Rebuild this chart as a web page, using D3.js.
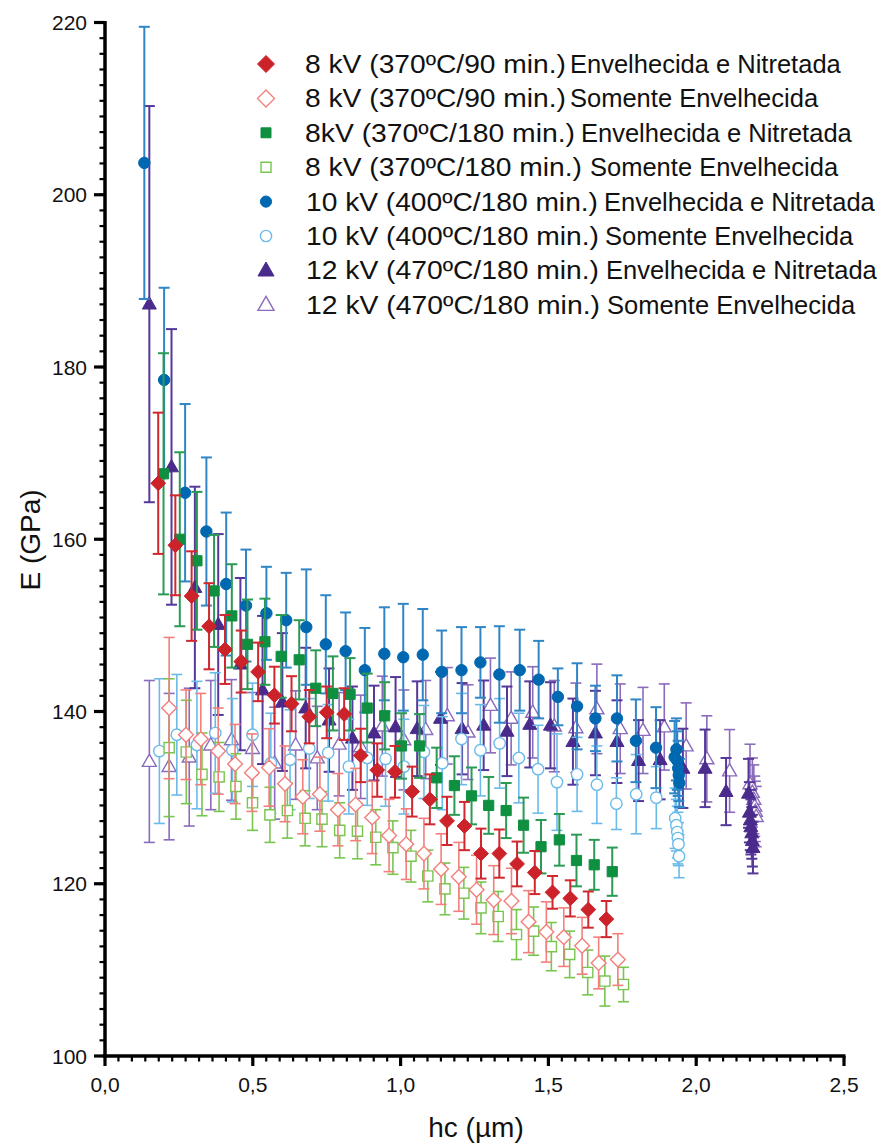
<!DOCTYPE html>
<html>
<head>
<meta charset="utf-8">
<script src="https://cdn.jsdelivr.net/npm/d3@7"></script>
<style>
  html, body { margin: 0; padding: 0; background: #fff; }
  svg { display: block; font-family: "Liberation Sans", Arial, sans-serif; }
</style>
</head>
<body>
<svg id="chart" width="879" height="1144"></svg>
<script>
// ---- Data: contact depth hc (µm), elastic modulus E (GPa) and its deviation ----

// 8 kV (370ºC/90 min.) aged and nitrided
const hcN8_90  = [0.180,0.238,0.293,0.352,0.406,0.461,0.518,0.573,0.631,0.691,0.750,0.809,0.865,0.921,0.981,1.039,1.099,1.157,1.216,1.272,1.334,1.394,1.454,1.514,1.574,1.635,1.696];
const eN8_90   = [166.5,159.3,153.4,149.9,147.2,145.8,144.6,141.9,140.9,139.4,139.9,139.7,134.9,133.2,133.0,130.7,129.8,127.3,126.7,123.5,123.5,122.3,121.3,119.0,118.3,117.0,115.9];
const errN8_90 = [8.2,5.8,5.2,5.0,4.0,3.6,3.4,3.3,3.2,3.1,3.0,3.0,3.1,3.1,3.0,2.9,2.9,2.8,2.8,2.9,2.8,2.6,2.5,1.9,2.1,2.1,2.1];

// 8 kV (370ºC/90 min.) aged only
const hcA8_90  = [0.217,0.274,0.324,0.383,0.440,0.497,0.555,0.609,0.669,0.727,0.788,0.848,0.904,0.961,1.019,1.079,1.137,1.197,1.257,1.315,1.375,1.433,1.493,1.552,1.614,1.670,1.735];
const eA8_90   = [140.4,137.3,136.8,135.4,133.9,132.9,133.5,131.6,130.1,130.4,128.6,129.2,127.7,125.6,124.6,123.5,121.7,120.8,119.3,118.1,118.0,115.6,114.4,113.8,112.8,110.8,111.2];
const errA8_90 = [8.2,5.2,5.3,5.0,4.6,4.5,4.5,4.4,4.3,4.3,4.2,4.2,4.2,4.2,4.1,4.1,4.1,4.0,4.0,4.0,3.8,3.6,3.5,3.4,3.3,3.0,3.0];

// 8 kV (370ºC/180 min.) aged and nitrided
const hcN8_180  = [0.198,0.253,0.311,0.369,0.429,0.482,0.541,0.596,0.657,0.713,0.771,0.829,0.887,0.946,1.003,1.064,1.122,1.182,1.240,1.298,1.357,1.416,1.475,1.537,1.595,1.655,1.716];
const eN8_180   = [167.6,160.0,157.5,154.0,151.1,147.8,148.1,146.4,146.0,142.7,142.1,142.0,140.4,139.5,136.0,136.0,132.3,131.4,130.2,129.1,128.5,126.8,124.3,125.1,122.7,122.2,121.4];
const errN8_180 = [14.0,10.1,8.0,6.5,6.0,5.2,5.0,4.8,4.6,4.4,4.3,4.2,4.0,3.9,3.8,3.7,3.5,3.4,3.3,3.3,3.2,3.2,3.1,3.0,3.0,2.9,2.8];

// 8 kV (370ºC/180 min.) aged only
const hcA8_180  = [0.217,0.275,0.328,0.386,0.443,0.499,0.558,0.617,0.677,0.734,0.794,0.854,0.916,0.974,1.035,1.092,1.150,1.214,1.272,1.330,1.392,1.450,1.510,1.572,1.633,1.691,1.754];
const eA8_180   = [135.8,135.3,132.7,132.4,131.3,129.4,128.0,128.5,127.6,127.5,126.2,126.1,125.4,124.2,123.2,120.9,119.4,118.9,117.2,116.2,114.1,114.5,112.7,111.8,109.7,108.7,108.3];
const errA8_180 = [8.0,6.0,4.8,4.0,3.8,3.2,3.2,3.2,3.2,3.2,3.2,3.2,3.2,3.1,3.0,3.0,3.0,3.0,3.0,2.9,2.9,2.8,2.8,2.7,2.6,2.9,2.0];

// 10 kV (400ºC/180 min.) aged and nitrided
const hcN10_180  = [0.133,0.200,0.271,0.343,0.410,0.477,0.546,0.613,0.681,0.747,0.814,0.879,0.945,1.009,1.075,1.139,1.206,1.270,1.334,1.403,1.467,1.532,1.597,1.659,1.732,1.796,1.864,1.927,1.933,1.936,1.939,1.941,1.943];
const eN10_180   = [203.7,178.5,165.4,160.9,154.8,152.3,151.4,150.6,149.8,147.8,147.0,144.8,146.7,146.3,146.6,144.6,144.8,145.7,144.3,144.8,143.7,141.7,140.6,139.2,139.2,136.6,135.8,134.7,135.6,134.3,133.4,132.6,131.7];
const errN10_180 = [15.8,10.7,10.3,8.6,8.3,6.5,5.4,5.5,6.7,5.7,4.5,4.9,5.4,6.2,5.3,4.8,5.0,4.1,5.6,4.7,4.5,3.3,5.0,3.8,5.0,4.8,4.7,4.2,3.6,3.4,3.2,3.0,2.8];

// 10 kV (400ºC/180 min.) aged only
const hcA10_180  = [0.184,0.243,0.311,0.373,0.431,0.499,0.561,0.626,0.691,0.755,0.825,0.887,0.949,1.011,1.079,1.141,1.206,1.270,1.335,1.400,1.465,1.529,1.597,1.664,1.730,1.797,1.865,1.929,1.933,1.936,1.938,1.940,1.942];
const eA10_180   = [135.4,137.3,136.1,137.5,135.5,137.3,134.0,134.4,135.7,135.2,133.6,134.6,134.5,133.6,135.3,134.0,136.8,135.5,136.3,134.6,133.3,131.8,132.7,131.5,129.3,130.4,130.0,127.6,126.8,126.0,125.3,124.6,123.2];
const errA10_180 = [8.4,7.0,7.4,7.0,6.0,6.0,5.8,5.8,5.8,5.6,5.5,5.5,5.5,5.5,5.4,5.4,5.3,5.3,5.2,5.2,5.1,5.6,4.3,4.5,3.0,4.6,3.6,3.5,3.0,3.0,3.0,2.5,2.5];

// 12 kV (470ºC/180 min.) aged and nitrided
const hcN12_180  = [0.150,0.225,0.304,0.383,0.458,0.533,0.600,0.679,0.758,0.837,0.910,0.983,1.056,1.135,1.208,1.281,1.360,1.437,1.507,1.583,1.659,1.732,1.805,1.878,1.955,2.030,2.101,2.177,2.180,2.183,2.185,2.188,2.190,2.192];
const eN12_180   = [187.3,168.4,154.4,150.1,145.5,142.5,141.1,140.4,139.0,136.9,137.5,138.2,138.0,139.2,138.0,138.4,137.7,138.5,138.4,136.5,137.5,136.5,134.3,134.4,133.4,133.4,130.7,130.5,128.3,127.4,126.6,125.9,125.0,124.2];
const errN12_180 = [23.0,16.0,11.7,10.5,10.0,8.6,8.0,7.0,6.0,6.0,5.5,5.8,5.5,5.4,5.3,5.2,5.2,5.0,5.0,5.0,4.9,4.8,4.7,4.6,4.6,4.5,3.9,4.0,3.5,3.5,3.2,3.0,3.0,3.0];

// 12 kV (470ºC/180 min.) aged only
const hcA12_180  = [0.150,0.217,0.285,0.358,0.428,0.499,0.574,0.645,0.718,0.792,0.865,0.938,1.011,1.085,1.158,1.228,1.304,1.374,1.447,1.520,1.593,1.664,1.743,1.820,1.892,1.966,2.036,2.113,2.182,2.190,2.195,2.198,2.200,2.203];
const eA12_180   = [134.2,133.6,134.7,136.1,136.7,135.7,134.0,136.1,134.6,136.2,135.9,138.3,136.7,137.9,139.5,137.6,140.7,139.2,139.9,138.3,138.1,140.3,138.0,137.8,138.2,136.0,134.5,133.1,131.6,130.6,129.8,129.0,128.4,127.8];
const errA12_180 = [9.4,8.5,8.0,7.5,7.0,6.5,6.5,6.3,6.0,6.0,6.0,5.8,5.8,5.7,5.6,5.5,5.5,5.4,5.3,5.3,5.2,5.2,5.2,5.0,5.0,5.0,5.0,4.8,4.6,4.0,4.0,3.5,3.5,3.5];

// Legend texts
const legendPrefix = [
  "8 kV (370ºC/90 min.)", "8 kV (370ºC/90 min.)",
  "8kV (370ºC/180 min.)", "8 kV (370ºC/180 min.)",
  "10 kV (400ºC/180 min.)", "10 kV (400ºC/180 min.)",
  "12 kV (470ºC/180 min.)", "12 kV (470ºC/180 min.)"
];
const legendSuffix = [
  "Envelhecida e Nitretada", "Somente Envelhecida",
  "Envelhecida e Nitretada", "Somente Envelhecida",
  "Envelhecida e Nitretada", "Somente Envelhecida",
  "Envelhecida e Nitretada", "Somente Envelhecida"
];

// Axis ticks
const xTicks = [0, 0.5, 1.0, 1.5, 2.0, 2.5];
const yTicks = [100, 120, 140, 160, 180, 200, 220];
const xTitle = "hc (µm)";
const yTitle = "E (GPa)";

// ---- Series table ----
const series = [
  { hc: hcN8_90,   e: eN8_90,   err: errN8_90,   shape: "diamond",  fill: "#cc2229", stroke: "#cc2229", bar: "#d0282e" },
  { hc: hcA8_90,   e: eA8_90,   err: errA8_90,   shape: "diamond",  fill: "#fff",    stroke: "#f37f7c", bar: "#f37f7c" },
  { hc: hcN8_180,  e: eN8_180,  err: errN8_180,  shape: "square",   fill: "#0f8f40", stroke: "#0f8f40", bar: "#2a9a55" },
  { hc: hcA8_180,  e: eA8_180,  err: errA8_180,  shape: "square",   fill: "#fff",    stroke: "#78c550", bar: "#78c550" },
  { hc: hcN10_180, e: eN10_180, err: errN10_180, shape: "circle",   fill: "#0067b1", stroke: "#0067b1", bar: "#2f86c6" },
  { hc: hcA10_180, e: eA10_180, err: errA10_180, shape: "circle",   fill: "#fff",    stroke: "#6bbbea", bar: "#6bbbea" },
  { hc: hcN12_180, e: eN12_180, err: errN12_180, shape: "triangle", fill: "#4a2b8c", stroke: "#4a2b8c", bar: "#56389a" },
  { hc: hcA12_180, e: eA12_180, err: errA12_180, shape: "triangle", fill: "#fff",    stroke: "#8b6bbb", bar: "#8b6bbb" }
];

// ---- Layout ----
const svg = d3.select("#chart");
const x = d3.scaleLinear().domain([0, 2.5]).range([105, 844]);
const y = d3.scaleLinear().domain([100, 220]).range([1056, 22.5]);

// Marker path around (0,0)
function markerPath(shape, s) {
  const p = d3.path();
  if (shape === "diamond") {
    p.moveTo(0, -s); p.lineTo(s, 0); p.lineTo(0, s); p.lineTo(-s, 0); p.closePath();
  } else if (shape === "square") {
    p.rect(-s, -s, 2 * s, 2 * s);
  } else if (shape === "circle") {
    p.arc(0, 0, s, 0, 2 * Math.PI);
  } else if (shape === "triangle") {
    const h = s * 1.75;
    p.moveTo(0, -h * 0.6); p.lineTo(s, h * 0.4); p.lineTo(-s, h * 0.4); p.closePath();
  }
  return p.toString();
}
const plotSize = { diamond: 7.4, square: 5.1, circle: 5.7, triangle: 7 };
const legendSize = { diamond: 8.5, square: 5, circle: 5.6, triangle: 8 };

// ---- Axes ----
const axisG = svg.append("g");
const xMinor = d3.range(0, 2.5 + 1e-9, 0.5 / 11);
const yMinor = d3.range(100, 220 + 1e-9, 20 / 11);

axisG.selectAll(".xminor").data(xMinor).join("line")
  .attr("x1", d => x(d)).attr("x2", d => x(d))
  .attr("y1", y(100)).attr("y2", y(100) + 5.5)
  .attr("stroke", "#000").attr("stroke-width", 2.2);
axisG.selectAll(".xmajor").data(xTicks).join("line")
  .attr("x1", d => x(d)).attr("x2", d => x(d))
  .attr("y1", y(100)).attr("y2", y(100) + 10)
  .attr("stroke", "#000").attr("stroke-width", 3.2);
axisG.selectAll(".yminor").data(yMinor).join("line")
  .attr("x1", x(0) - 5.5).attr("x2", x(0))
  .attr("y1", d => y(d)).attr("y2", d => y(d))
  .attr("stroke", "#000").attr("stroke-width", 2.2);
axisG.selectAll(".ymajor").data(yTicks).join("line")
  .attr("x1", x(0) - 11).attr("x2", x(0))
  .attr("y1", d => y(d)).attr("y2", d => y(d))
  .attr("stroke", "#000").attr("stroke-width", 3.2);

axisG.append("line").attr("x1", x(0)).attr("x2", x(0))
  .attr("y1", y(220) - 1.5).attr("y2", y(100) + 1.7)
  .attr("stroke", "#000").attr("stroke-width", 3.5);
axisG.append("line").attr("x1", x(0) - 1.7).attr("x2", x(2.5) + 1.5)
  .attr("y1", y(100)).attr("y2", y(100))
  .attr("stroke", "#000").attr("stroke-width", 3.5);

const fmtComma = d => d3.format(".1f")(d).replace(".", ",");
axisG.selectAll(".xlab").data(xTicks).join("text")
  .attr("x", d => x(d)).attr("y", 1092)
  .attr("text-anchor", "middle").attr("font-size", 21).attr("fill", "#111")
  .text(fmtComma);
axisG.selectAll(".ylab").data(yTicks).join("text")
  .attr("x", 87).attr("y", d => y(d)).attr("dy", "0.36em")
  .attr("text-anchor", "end").attr("font-size", 21).attr("fill", "#111")
  .text(d => d);

svg.append("text")
  .attr("x", 476).attr("y", 1137)
  .attr("text-anchor", "middle").attr("font-size", 28).attr("fill", "#111")
  .text(xTitle);
svg.append("text")
  .attr("transform", "translate(40,540) rotate(-90)")
  .attr("text-anchor", "middle").attr("font-size", 28).attr("fill", "#111")
  .text(yTitle);

// ---- Data: error bars then markers, last series drawn first ----
const capHalf = 5.5;
const dataG = svg.append("g");
series.slice().reverse().forEach(s => {
  const pts = s.hc.map((h, i) => ({ h, e: s.e[i], d: s.err[i] }));
  const g = dataG.append("g");
  const filled = s.fill !== "#fff";
  const bw = filled ? 2 : 1.6;
  g.selectAll(".v").data(pts).join("line")
    .attr("x1", p => x(p.h)).attr("x2", p => x(p.h))
    .attr("y1", p => y(p.e + p.d)).attr("y2", p => y(p.e - p.d))
    .attr("stroke", s.bar).attr("stroke-width", bw);
  g.selectAll(".ct").data(pts).join("line")
    .attr("x1", p => x(p.h) - capHalf).attr("x2", p => x(p.h) + capHalf)
    .attr("y1", p => y(p.e + p.d)).attr("y2", p => y(p.e + p.d))
    .attr("stroke", s.bar).attr("stroke-width", bw);
  g.selectAll(".cb").data(pts).join("line")
    .attr("x1", p => x(p.h) - capHalf).attr("x2", p => x(p.h) + capHalf)
    .attr("y1", p => y(p.e - p.d)).attr("y2", p => y(p.e - p.d))
    .attr("stroke", s.bar).attr("stroke-width", bw);
  g.selectAll(".m").data(pts).join("path")
    .attr("transform", p => `translate(${x(p.h)},${y(p.e)})`)
    .attr("d", markerPath(s.shape, plotSize[s.shape]))
    .attr("fill", s.fill).attr("stroke", s.stroke)
    .attr("stroke-width", filled ? 1 : 1.4);
});

// ---- Legend ----
const leg = svg.append("g");
const rowY0 = 64, rowStep = 34.4;
const prefixX = [305, 305, 305, 305, 306, 306, 306, 306];
const prefixEnd = [566, 566, 575, 582, 598, 599, 599, 600];
const suffixX = [570, 570, 581, 590, 604, 605, 606, 607];
series.forEach((s, i) => {
  const cy = rowY0 + i * rowStep;
  const filled = s.fill !== "#fff";
  leg.append("path")
    .attr("transform", `translate(266,${cy})`)
    .attr("d", markerPath(s.shape, legendSize[s.shape]))
    .attr("fill", s.fill).attr("stroke", s.stroke)
    .attr("stroke-width", filled ? 1 : 1.4);
  leg.append("text")
    .attr("x", prefixX[i]).attr("y", cy + 9)
    .attr("font-size", 25.5).attr("fill", "#111")
    .attr("textLength", prefixEnd[i] - prefixX[i])
    .attr("lengthAdjust", "spacingAndGlyphs")
    .text(legendPrefix[i]);
  leg.append("text")
    .attr("x", suffixX[i]).attr("y", cy + 9)
    .attr("font-size", 25.5).attr("fill", "#111")
    .text(legendSuffix[i]);
});
</script>
</body>
</html>
